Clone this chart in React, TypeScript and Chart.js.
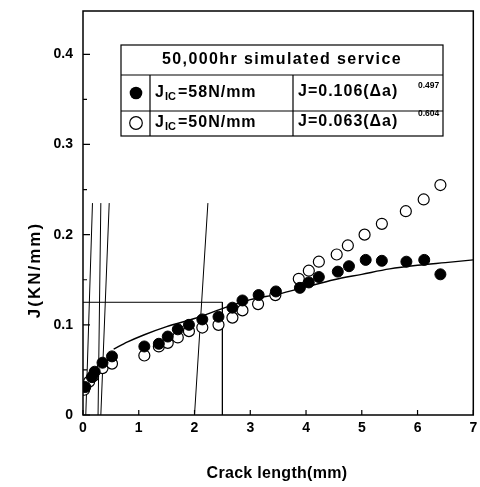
import React, { useEffect, useRef } from "react";
import { Chart, registerables } from "chart.js";

Chart.register(...registerables);

// ---------- data ----------
const filledX = [0.04, 0.16, 0.21, 0.35, 0.52, 1.1, 1.36, 1.52, 1.7, 1.9, 2.14, 2.43, 2.68, 2.86, 3.15, 3.46, 3.89, 4.05, 4.23, 4.57, 4.77, 5.07, 5.36, 5.8, 6.12, 6.41];
const filledY = [0.031, 0.042, 0.048, 0.058, 0.065, 0.076, 0.079, 0.087, 0.095, 0.1, 0.106, 0.109, 0.119, 0.127, 0.133, 0.137, 0.141, 0.147, 0.153, 0.159, 0.165, 0.172, 0.171, 0.17, 0.172, 0.156];

const openX = [0.02, 0.11, 0.18, 0.35, 0.52, 1.1, 1.36, 1.52, 1.7, 1.9, 2.14, 2.43, 2.68, 2.86, 3.14, 3.45, 3.87, 4.05, 4.23, 4.55, 4.75, 5.05, 5.36, 5.79, 6.11, 6.41];
const openY = [0.028, 0.037, 0.043, 0.052, 0.057, 0.066, 0.076, 0.08, 0.086, 0.093, 0.097, 0.1, 0.108, 0.116, 0.123, 0.133, 0.151, 0.16, 0.17, 0.178, 0.188, 0.2, 0.212, 0.226, 0.239, 0.255];

const curveX = [0.55, 0.8, 1.1, 1.5, 2.0, 2.5, 3.0, 3.5, 4.0, 4.5, 5.0, 5.5, 6.0, 6.5, 7.0];
const curveY = [0.073, 0.081, 0.089, 0.098, 0.107, 0.118, 0.128, 0.134, 0.142, 0.15, 0.156, 0.162, 0.166, 0.169, 0.172];

// construction lines: [x0, y0, x1, y1]
const line1 = [0.05, 0, 0.17, 0.235];
const line2 = [0.27, 0, 0.32, 0.235];
const line3 = [0.32, 0, 0.47, 0.235];
const line4 = [2.0, 0, 2.24, 0.235];
const boxLineX = [0, 2.5, 2.5];
const boxLineY = [0.125, 0.125, 0];

const xTickValues = [0, 1, 2, 3, 4, 5, 6, 7];
const yMajorTicks = [0, 0.1, 0.2, 0.3, 0.4];
const yMinorTicks = [0.05, 0.15, 0.25, 0.35];
const yTickLabels = ["0", "0.1", "0.2", "0.3", "0.4"];

const xTitle = "Crack length(mm)";
const yTitle = "J(KN/mm)";
const legendTitle = "50,000hr simulated service";
const legendRows = [
  { filled: true, jic: "=58N/mm", eq: "J=0.106(\u0394a)", exp: "0.497" },
  { filled: false, jic: "=50N/mm", eq: "J=0.063(\u0394a)", exp: "0.604" },
];

const FONT = '"Liberation Sans", Arial, sans-serif';

const pts = (xs: number[], ys: number[]) => xs.map((x, i) => ({ x, y: ys[i] }));
const seg = (l: number[]) => [{ x: l[0], y: l[1] }, { x: l[2], y: l[3] }];

const framePlugin = {
  id: "frame",
  afterDraw(chart: any) {
    const { ctx, chartArea: a, scales } = chart;
    const xs = scales.x;
    const ys = scales.y;
    ctx.save();
    ctx.strokeStyle = "#000";
    ctx.lineWidth = 1.5;
    ctx.strokeRect(a.left, a.top, a.right - a.left, a.bottom - a.top);
    ctx.lineWidth = 1.2;
    ctx.beginPath();
    yMajorTicks.forEach((v) => {
      const p = ys.getPixelForValue(v);
      ctx.moveTo(a.left, p);
      ctx.lineTo(a.left + 7, p);
    });
    yMinorTicks.forEach((v) => {
      const p = ys.getPixelForValue(v);
      ctx.moveTo(a.left, p);
      ctx.lineTo(a.left + 4, p);
    });
    xTickValues.forEach((v) => {
      const p = xs.getPixelForValue(v);
      ctx.moveTo(p, a.bottom);
      ctx.lineTo(p, a.bottom - 5);
    });
    ctx.stroke();

    // axis titles
    ctx.fillStyle = "#000";
    ctx.textBaseline = "middle";
    ctx.textAlign = "center";
    ctx.font = `bold 16px ${FONT}`;
    (ctx as any).letterSpacing = "0.3px";
    ctx.fillText(xTitle, 277, 474);
    ctx.save();
    ctx.translate(35, 270);
    ctx.rotate(-Math.PI / 2);
    ctx.font = `bold 17px ${FONT}`;
    (ctx as any).letterSpacing = "2px";
    ctx.fillText(yTitle, 0, 0);
    ctx.restore();

    // legend box
    const L = 121, T = 45, R = 443, B = 136;
    const r1 = 75, r2 = 111, c1 = 150, c2 = 293;
    ctx.lineWidth = 1.2;
    ctx.fillStyle = "#fff";
    ctx.fillRect(L, T, R - L, B - T);
    ctx.strokeRect(L, T, R - L, B - T);
    ctx.beginPath();
    ctx.moveTo(L, r1); ctx.lineTo(R, r1);
    ctx.moveTo(L, r2); ctx.lineTo(R, r2);
    ctx.moveTo(c1, r1); ctx.lineTo(c1, B);
    ctx.moveTo(c2, r1); ctx.lineTo(c2, B);
    ctx.stroke();

    ctx.fillStyle = "#000";
    ctx.textBaseline = "middle";
    ctx.textAlign = "center";
    (ctx as any).letterSpacing = "1.4px";
    ctx.font = `bold 16px ${FONT}`;
    ctx.fillText(legendTitle, 282, 60);

    const rowY = [93, 123];
    const expDy = [-7, -9];
    legendRows.forEach((row, i) => {
      const y = rowY[i];
      ctx.beginPath();
      ctx.arc(136, y, 6.3, 0, Math.PI * 2);
      if (row.filled) {
        ctx.fillStyle = "#000";
        ctx.fill();
      } else {
        ctx.fillStyle = "#fff";
        ctx.fill();
        ctx.lineWidth = 1.2;
        ctx.stroke();
      }
      ctx.fillStyle = "#000";
      ctx.textAlign = "left";
      (ctx as any).letterSpacing = "1px";
      ctx.font = `bold 16px ${FONT}`;
      ctx.fillText("J", 155, y);
      ctx.font = `bold 11px ${FONT}`;
      (ctx as any).letterSpacing = "0px";
      ctx.fillText("IC", 165, y + 4);
      (ctx as any).letterSpacing = "1px";
      ctx.font = `bold 16px ${FONT}`;
      ctx.fillText(row.jic, 178, y);
      ctx.fillText(row.eq, 298, y - 1);
      (ctx as any).letterSpacing = "0px";
      ctx.font = `bold 8.5px ${FONT}`;
      ctx.fillText(row.exp, 418, y + expDy[i]);
    });
    ctx.restore();
  },
};

export default function App() {
  const ref = useRef<HTMLCanvasElement>(null);
  useEffect(() => {
    const canvas = ref.current!;
    const lineDs = (data: any[]) => ({
      data,
      showLine: true,
      pointRadius: 0,
      borderColor: "#000",
      borderWidth: 1,
      backgroundColor: "#000",
      fill: false,
    });
    const chart = new Chart(canvas, {
      type: "scatter",
      data: {
        datasets: [
          {
            label: "JIC=58N/mm",
            data: pts(filledX, filledY),
            pointRadius: 5.5,
            backgroundColor: "#000",
            borderColor: "#000",
            borderWidth: 1,
          },
          {
            label: "JIC=50N/mm",
            data: pts(openX, openY),
            pointRadius: 5.5,
            backgroundColor: "#fff",
            borderColor: "#000",
            borderWidth: 1.2,
          },
          { ...lineDs(pts(curveX, curveY)), borderWidth: 1.4, tension: 0.4, cubicInterpolationMode: "monotone" } as any,
          lineDs(seg(line1)),
          lineDs(seg(line2)),
          lineDs(seg(line3)),
          lineDs(seg(line4)),
          lineDs(pts(boxLineX, boxLineY)),
        ],
      },
      options: {
        animation: false,
        responsive: false,
        maintainAspectRatio: false,
        layout: { padding: { top: 11, right: 4, left: 0, bottom: 0 } },
        plugins: { legend: { display: false }, tooltip: { enabled: false } },
        scales: {
          x: {
            type: "linear",
            min: 0,
            max: 7,
            afterFit: (s: any) => {
              s.height = 72;
              s.paddingLeft = 0;
              s.paddingRight = 0;
            },
            ticks: {
              stepSize: 1,
              autoSkip: false,
              maxRotation: 0,
              color: "#000",
              padding: 5,
              font: { family: FONT, size: 14, weight: "bold" },
              callback: (v: any) => String(v),
            },
            grid: { display: false, drawTicks: false },
            border: { display: false },
            title: { display: false },
          },
          y: {
            type: "linear",
            min: 0,
            max: 0.448,
            afterFit: (s: any) => {
              s.width = 83;
              s.paddingTop = 0;
              s.paddingBottom = 0;
            },
            ticks: {
              stepSize: 0.05,
              autoSkip: false,
              color: "#000",
              padding: 10,
              font: { family: FONT, size: 14, weight: "bold" },
              callback: (v: any) => {
                const idx = yMajorTicks.findIndex((t) => Math.abs(t - v) < 1e-6);
                return idx >= 0 ? yTickLabels[idx] : "";
              },
            },
            grid: { display: false, drawTicks: false },
            border: { display: false },
            title: { display: false },
          },
        },
      },
      plugins: [framePlugin],
    });
    return () => chart.destroy();
  }, []);
  return (
    <div style={{ position: "absolute", left: 0, top: 0, width: 480, height: 487, background: "#fff" }}>
      <canvas ref={ref} width={480} height={487} style={{ display: "block", width: 480, height: 487 }} />
    </div>
  );
}
